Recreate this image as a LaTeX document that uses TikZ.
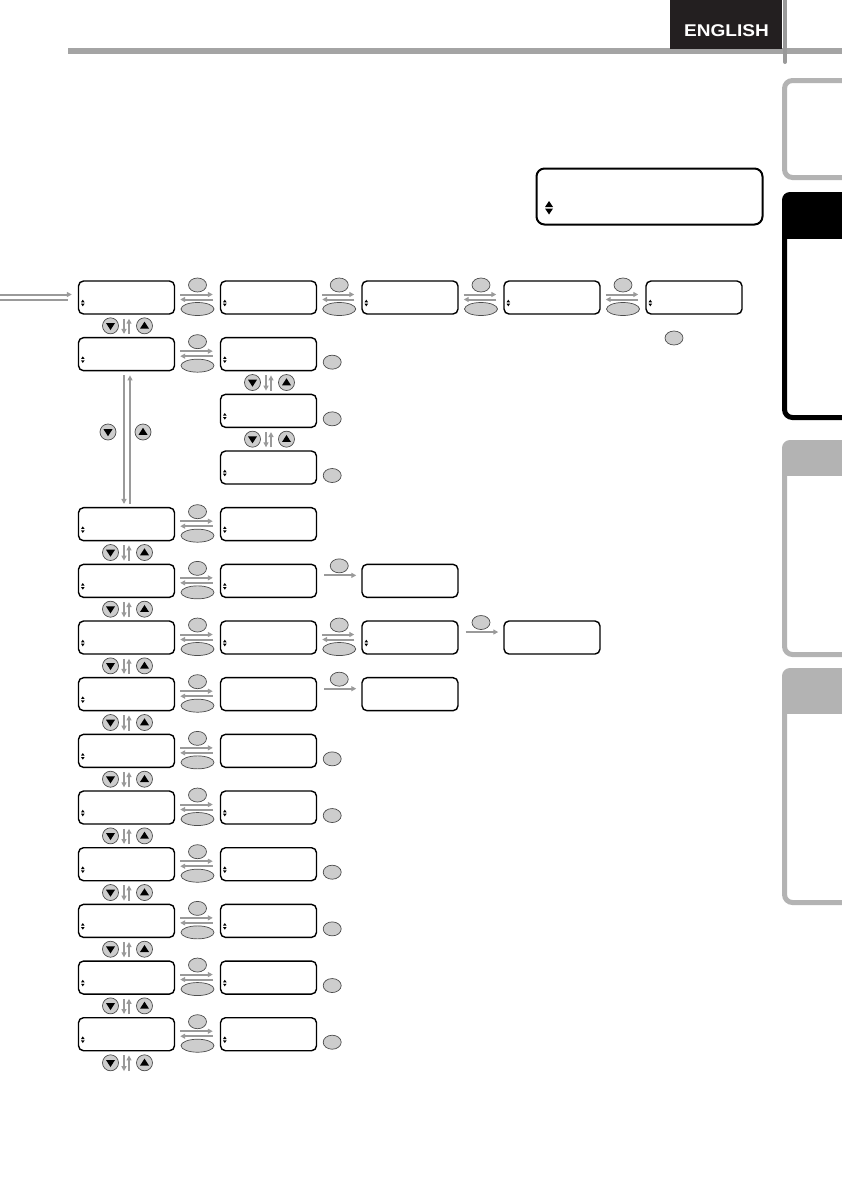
\documentclass[tikz,border=0pt]{standalone}
\usepackage{fontspec}
\setsansfont{Liberation Sans}
\usepackage{tikz}
\usetikzlibrary{arrows.meta,shapes.geometric}

\definecolor{arrgray}{HTML}{9A9A9A}
\definecolor{keygray}{HTML}{CDCDCD}
\definecolor{tabgray}{HTML}{B3B3B3}
\definecolor{inkblack}{HTML}{231F20}

\tikzset{
  screen/.style={draw, line width=1.4pt, rounded corners=5pt, minimum width=96pt, minimum height=33pt, inner sep=0pt},
  garr/.style={draw=arrgray, line width=2pt, -{Triangle[length=5pt,width=5pt]}},
  key/.style={ellipse, fill=keygray, draw=black!70, line width=0.7pt, minimum width=18pt, minimum height=14pt, inner sep=0pt},
  bigkey/.style={key, minimum width=33pt, minimum height=13pt},
  roundkey/.style={circle, fill=keygray, draw=black!70, line width=0.7pt, minimum size=16pt, inner sep=0pt},
}

% small up/down mark inside a screen
\newcommand\updn[1]{\fill ([shift={(5,5.5)}]#1.west) ++(-1.8,-0.7) -- ++(3.6,0) -- ++(-1.8,-2.6) -- cycle
  ([shift={(5,5.5)}]#1.west) ++(-1.8,0.7) -- ++(3.6,0) -- ++(-1.8,2.6) -- cycle;}
% cursor keys
\newcommand\dnkey[2]{\node[roundkey] (#1) at #2 {};
  \fill (#1.center) ++(-4.5,-2.8) -- ++(9,0) -- ++(-4.5,7) -- cycle;}
\newcommand\upkey[2]{\node[roundkey] (#1) at #2 {};
  \fill (#1.center) ++(-4.5,2.8) -- ++(9,0) -- ++(-4.5,-7) -- cycle;}
% scroll between two screens of a column
\newcommand\scroll[2]{%
  \draw[garr] ([shift={(-2.5,4)}]#1.south) -- ([shift={(-2.5,-3)}]#2.north);
  \draw[garr] ([shift={(2.5,-3)}]#2.north) -- ([shift={(2.5,4)}]#1.south);
  \path (#1.south) -- coordinate (#1#2m) (#2.north);
  \dnkey{#1#2dn}{([shift={(-16,0)}]#1#2m)}
  \upkey{#1#2up}{([shift={(18,0)}]#1#2m)}}
% set / back between two screens of a row
\newcommand\swap[2]{%
  \draw[garr] ([shift={(5,-3)}]#1.east) -- ([shift={(-7,-3)}]#2.west);
  \draw[garr] ([shift={(-7,2)}]#2.west) -- ([shift={(5,2)}]#1.east);
  \path (#1.east) -- coordinate (#1#2m) (#2.west);
  \node[key] (#1#2set) at ([shift={(0,-12.5)}]#1#2m) {};
  \node[bigkey] (#1#2back) at ([shift={(0,11.5)}]#1#2m) {};}
% one way only
\newcommand\fwd[2]{%
  \draw[garr] ([shift={(7,-5.5)}]#1.east) -- ([shift={(-5,-5.5)}]#2.west);
  \path (#1.east) -- coordinate (#1#2m) (#2.west);
  \node[key] (#1#2set) at ([shift={(0,-15)}]#1#2m) {};}

\begin{document}
\begin{tikzpicture}[x=1pt,y=-1pt]
  \useasboundingbox (0,0) rectangle (841,1191);

  % page header
  \fill[arrgray!90] (68,48) rectangle (845,54);
  \draw[arrgray, line width=4pt, line cap=round] (785,-5) -- (785,62);
  \node[fill=inkblack, minimum width=112pt, minimum height=49pt, inner sep=0pt] (lang) at (726,24.5) {};
  \node[text=white, font=\sffamily\bfseries\fontsize{17}{17}\selectfont, xscale=1.12] (langtxt) at (726.5,31) {ENGLISH};

  % side tabs
  \draw[tabgray, line width=5pt, rounded corners=8pt] (860,80.5) -- (784.5,80.5) -- (784.5,177.5) -- (860,177.5);
  \begin{scope}
    \clip (782,192) rectangle (860,238);
    \fill[rounded corners=8pt] (782,192) rectangle (880,260);
  \end{scope}
  \draw[line width=5pt, rounded corners=8pt] (860,194.5) -- (784.5,194.5) -- (784.5,417.5) -- (860,417.5);
  \begin{scope}
    \clip (782,440) rectangle (860,475);
    \fill[tabgray, rounded corners=8pt] (782,440) rectangle (880,500);
  \end{scope}
  \draw[tabgray, line width=5pt, rounded corners=8pt] (860,442.5) -- (784.5,442.5) -- (784.5,654.5) -- (860,654.5);
  \begin{scope}
    \clip (782,668) rectangle (860,713);
    \fill[tabgray, rounded corners=8pt] (782,668) rectangle (880,740);
  \end{scope}
  \draw[tabgray, line width=5pt, rounded corners=8pt] (860,670.5) -- (784.5,670.5) -- (784.5,902.5) -- (860,902.5);

  % display
  \node[draw, line width=2pt, rounded corners=8pt, minimum width=226pt, minimum height=56pt, inner sep=0pt] (lcd) at (649.5,196.5) {};
  \fill (549,207) -- ++(-4,0) -- ++(4,-6) -- ++(4,6) -- cycle
        (549,208.5) -- ++(-4,0) -- ++(4,6) -- ++(4,-6) -- cycle;

  % screens
  \foreach \i in {0,1,4,5,...,13}
    \node[screen] (a\i) at (126.5,{297.5+\i*56.67}) {};
  \foreach \i in {0,...,13}
    \node[screen] (b\i) at (268.5,{297.5+\i*56.67}) {};
  \node[screen] (c0) at (410,297.5) {};
  \node[screen] (d0) at (552,297.5) {};
  \node[screen] (e0) at (694,297.5) {};
  \node[screen] (c5) at (410,{297.5+5*56.67}) {};
  \node[screen] (c6) at (410,{297.5+6*56.67}) {};
  \node[screen] (d6) at (552,{297.5+6*56.67}) {};
  \node[screen] (c7) at (410,{297.5+7*56.67}) {};
  \node[minimum width=96pt, minimum height=33pt, inner sep=0pt] (aend) at (126.5,{297.5+14*56.67}) {};

  \foreach \n in {a0,a1,a4,a5,a6,a7,a8,a9,a10,a11,a12,a13,b0,b1,b2,b3,b4,b5,b6,b9,b10,b11,b12,b13,c0,d0,e0,c6}
    {\updn{\n}}

  % entry
  \coordinate (in) at (0,297.5);
  \draw[garr] ([shift={(0,-3)}]in) -- ([shift={(-6,-3)}]a0.west);
  \draw[arrgray, line width=2pt] ([shift={(0,2)}]in) -- ([shift={(-10,2)}]a0.west);

  % first row
  \swap{a0}{b0}
  \swap{b0}{c0}
  \swap{c0}{d0}
  \swap{d0}{e0}
  \node[key] (eok) at (674,338) {};

  % second row and its list
  \swap{a1}{b1}
  \scroll{b1}{b2}
  \scroll{b2}{b3}
  \foreach \i in {1,2,3,8,9,...,13}
    \node[key] (ok\i) at ([shift={(15,8)}]b\i.east) {};

  % long jump in the first column
  \draw[garr] ([shift={(-2.5,4)}]a1.south) -- ([shift={(-2.5,-3)}]a4.north);
  \draw[garr] ([shift={(3.5,-3)}]a4.north) -- ([shift={(3.5,4)}]a1.south);
  \dnkey{jdn}{(108,432)}
  \upkey{jup}{(143,432)}

  % other rows
  \scroll{a0}{a1}
  \foreach \i [evaluate=\i as \j using int(\i+1)] in {4,...,12}
    {\scroll{a\i}{a\j}}
  \scroll{a13}{aend}
  \foreach \i in {4,...,13}
    {\swap{a\i}{b\i}}
  \fwd{b5}{c5}
  \swap{b6}{c6}
  \fwd{c6}{d6}
  \fwd{b7}{c7}
\end{tikzpicture}
\end{document}
